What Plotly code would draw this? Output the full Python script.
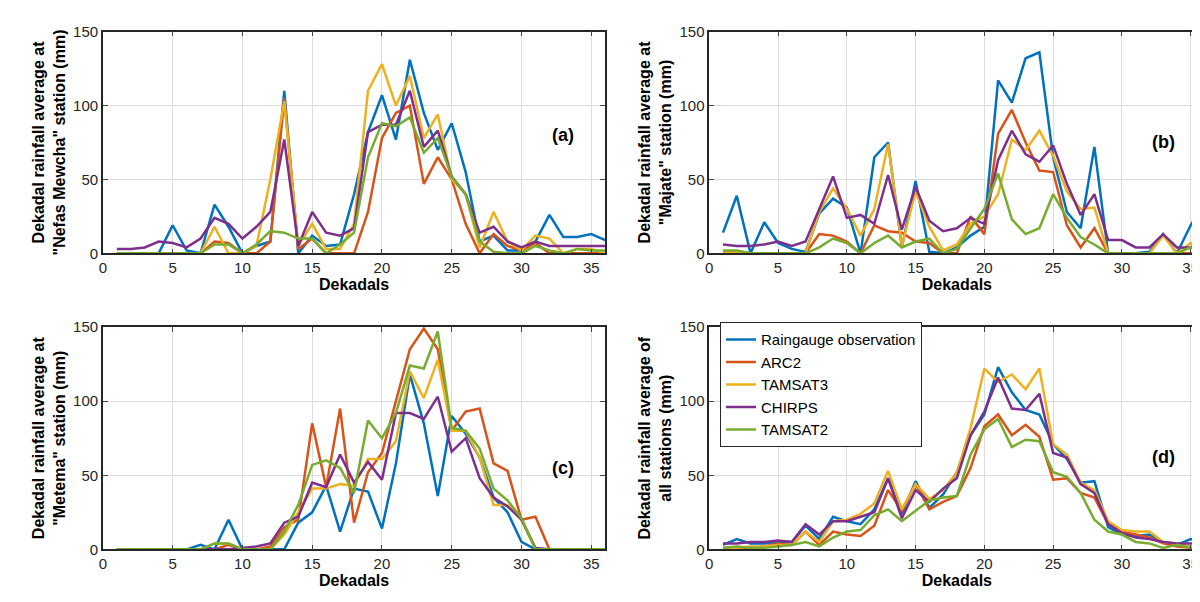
import plotly.graph_objects as go

dek = list(range(1, 37))
names = ["Raingauge observation", "ARC2", "TAMSAT3", "CHIRPS", "TAMSAT2"]
colors = ["#0072BD", "#D95319", "#EDB120", "#7E2F8E", "#77AC30"]

# (a) Nefas Mewcha
a_obs = [0,0,0,0,19,2,0,33,18,0,5,8,110,0,12,5,6,40,82,107,77,131,95,70,88,55,8,12,2,2,8,26,11,11,13,9]
a_arc = [0,0,0,0,0,0,0,8,7,0,0,8,105,3,10,0,0,0,28,78,95,100,47,65,50,20,0,13,5,2,7,0,0,0,0,0]
a_tm3 = [0,0,0,0,0,0,0,18,0,0,5,50,103,5,20,3,3,20,110,128,100,120,78,94,50,40,4,28,8,2,12,10,0,3,3,0]
a_chp = [3,3,4,8,7,4,10,24,20,10,18,28,77,5,28,14,12,17,82,87,87,110,72,83,52,40,14,18,8,4,8,5,5,5,5,5]
a_tm2 = [0,0,0,0,0,0,0,6,6,0,6,15,14,10,10,0,6,14,65,88,86,92,68,78,52,40,8,1,0,0,5,2,0,3,2,2]

# (b) Majate
b_obs = [14,39,0,21,7,3,1,27,37,31,0,65,75,4,49,1,0,4,12,18,117,102,132,136,65,28,17,72,0,0,0,1,13,0,19,34]
b_arc = [0,0,0,0,0,0,0,13,12,8,0,19,15,14,8,7,0,0,25,13,81,97,75,56,55,19,4,17,0,0,0,0,0,0,0,0]
b_tm3 = [1,1,0,0,0,0,0,28,44,30,12,30,74,5,42,18,2,6,20,25,40,77,70,83,66,42,30,31,0,0,0,0,12,0,7,0]
b_chp = [6,5,5,6,8,5,8,30,52,24,26,20,53,16,45,22,15,17,24,20,63,83,67,62,73,47,26,40,9,9,4,4,13,4,4,9]
b_tm2 = [2,2,0,0,0,0,0,4,10,7,0,7,12,4,8,10,0,3,17,30,54,23,13,17,40,24,11,6,0,0,0,0,0,0,4,0]

# (c) Metema
c_obs = [0,0,0,0,0,0,3,0,20,0,0,0,0,18,25,43,12,41,39,14,58,118,85,36,90,78,62,35,25,5,0,0,0,0,0,0]
c_arc = [0,0,0,0,0,0,0,0,3,0,0,2,15,20,85,42,95,18,52,65,100,135,149,135,80,93,95,58,53,20,22,0,0,0,0,0]
c_tm3 = [0,0,0,0,0,0,0,4,4,0,0,0,10,25,41,41,44,43,61,61,73,120,102,128,80,80,62,30,30,20,0,0,0,0,0,0]
c_chp = [0,0,0,0,0,0,0,0,0,1,2,4,18,22,45,42,64,45,59,47,92,92,88,103,66,75,48,35,29,20,1,0,0,0,0,0]
c_tm2 = [0,0,0,0,0,0,0,4,4,0,0,0,12,30,57,60,55,38,87,75,92,124,122,147,82,80,68,41,33,21,0,0,0,0,0,0]

# (d) all stations
d_obs = [3,7,4,4,5,5,16,7,22,19,17,27,48,24,46,28,37,52,77,91,123,106,94,91,71,61,45,46,15,10,9,10,5,3,7,4]
d_arc = [1,1,1,2,4,3,12,3,12,10,9,16,40,26,44,27,32,36,55,83,91,77,84,76,47,48,38,35,17,12,10,8,4,2,1,0]
d_tm3 = [0,1,2,2,3,3,12,5,19,20,24,31,53,27,44,34,40,52,82,122,113,118,108,122,71,64,45,40,19,13,12,12,5,4,2,1]
d_chp = [4,4,5,5,6,5,17,10,19,19,22,25,48,21,40,32,41,48,77,93,116,95,94,105,65,62,44,38,17,11,8,7,5,4,4,4]
d_tm2 = [1,2,1,1,2,3,5,2,8,12,13,23,27,19,26,33,35,36,64,81,88,69,74,73,52,49,38,20,12,10,5,4,1,3,1,0]

panels = [
    ([a_obs, a_arc, a_tm3, a_chp, a_tm2], "(a)", 80, 'Dekadal rainfall average at<br>"Nefas Mewcha" station (mm)'),
    ([b_obs, b_arc, b_tm3, b_chp, b_tm2], "(b)", 75, 'Dekadal rainfall average at<br>"Majate" station (mm)'),
    ([c_obs, c_arc, c_tm3, c_chp, c_tm2], "(c)", 55, 'Dekadal rainfall average at<br>"Metema" station (mm)'),
    ([d_obs, d_arc, d_tm3, d_chp, d_tm2], "(d)", 62, 'Dekadal rainfall average of<br>all stations (mm)'),
]
xdom = [[0.076, 0.496], [0.583, 0.997], [0.076, 0.496], [0.583, 0.997]]
ydom = [[0.596, 0.975], [0.596, 0.975], [0.09, 0.47], [0.09, 0.47]]

font = dict(family="Liberation Sans, Arial", size=15, color="#262626")
fig = go.Figure()
layout = dict(width=1200, height=602, margin=dict(l=0, r=0, t=0, b=0),
              paper_bgcolor="white", plot_bgcolor="white", font=font,
              annotations=[])

for i, (series, tag, ty, ytitle) in enumerate(panels):
    k = "" if i == 0 else str(i + 1)
    for j, s in enumerate(series):
        fig.add_trace(go.Scatter(x=dek, y=s, mode="lines", name=names[j],
                                 line=dict(color=colors[j], width=2.5),
                                 xaxis="x" + k, yaxis="y" + k,
                                 showlegend=(i == 3)))
    ax = dict(domain=xdom[i], range=[0, 36], tickvals=list(range(0, 40, 5)),
              showgrid=True, gridcolor="#dcdcdc", showline=True, linecolor="#262626",
              linewidth=1.5, mirror="ticks", ticks="inside", ticklen=5, zeroline=False,
              anchor="y" + k,
              title=dict(text="<b>Dekadals</b>", standoff=0, font=dict(size=16, color="black")))
    ay = dict(domain=ydom[i], range=[0, 150], tickvals=[0, 50, 100, 150],
              showgrid=True, gridcolor="#dcdcdc", showline=True, linecolor="#262626",
              linewidth=1.5, mirror="ticks", ticks="inside", ticklen=5, zeroline=False,
              anchor="x" + k,
              title=dict(text="<b>" + ytitle + "</b>", standoff=4, font=dict(size=16, color="black")))
    layout["xaxis" + k] = ax
    layout["yaxis" + k] = ay
    layout["annotations"].append(dict(x=33, y=ty, xref="x" + k, yref="y" + k, text="<b>" + tag + "</b>",
                                      showarrow=False, font=dict(size=18, color="black")))

layout["legend"] = dict(x=0.592, y=0.478, xanchor="left", yanchor="top",
                        bgcolor="white", bordercolor="#262626", borderwidth=1,
                        font=dict(size=15, color="black"), tracegroupgap=0)
fig.update_layout(**layout)
fig.write_html("out.html")
